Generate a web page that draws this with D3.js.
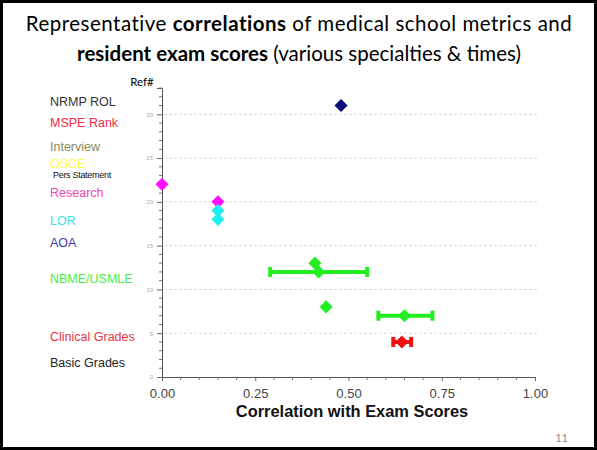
<!DOCTYPE html>
<html>
<head>
<meta charset="utf-8">
<script src="https://cdn.jsdelivr.net/npm/d3@7"></script>
<style>
html,body{margin:0;padding:0;background:#fff;}
svg{display:block;}
</style>
</head>
<body>
<svg id="chart" width="597" height="450"></svg>
<script>
// ---- data ----
const categories = ["NRMP ROL","MSPE Rank","Interview","OSCE","Pers Statement","Research","LOR","AOA","NBME/USMLE","Clinical Grades","Basic Grades"];
const categoryRef = [31.5, 29.0, 26.3, 24.4, 23.1, 21.0, 17.8, 15.4, 11.2, 4.6, 1.6];
const categoryColors = ["#333333","#ee2a44","#8a8a55","#ffff44","#111111","#ee4ab0","#44dde8","#3a3aaa","#44ee44","#ee3346","#222222"];

const refNums      = [31,   22,   20,   19,   18,   13,   12,   8,    7,     4];
const correlations = [0.48, 0.00, 0.15, 0.15, 0.15, 0.41, 0.42, 0.44, 0.65,  0.643];
const ciLow        = [null, null, null, null, null, null, 0.29, null, 0.58,  0.62];
const ciHigh       = [null, null, null, null, null, null, 0.55, null, 0.725, 0.668];
const pointColors  = ["#0b0b7a","#ff11ff","#ff11ff","#22eeee","#22eeee","#22ee22","#22ee22","#22ee22","#22ee22","#ee1111"];

const xTicks = [0, 0.25, 0.5, 0.75, 1.0];
const yTicks = [0, 5, 10, 15, 20, 25, 30];

// ---- drawing ----
const svg = d3.select("#chart");
const x = d3.scaleLinear().domain([0, 1]).range([162, 535]);
const y = d3.scaleLinear().domain([0, 33]).range([377, 88]);

// border
svg.append("rect").attr("x",1.5).attr("y",1.5).attr("width",594).attr("height",447)
  .attr("fill","none").attr("stroke","#000").attr("stroke-width",3);

// title
const title = svg.append("text").attr("text-anchor","middle")
  .attr("font-family","Lato, 'Open Sans', sans-serif").attr("font-size",20.5).attr("fill","#000")
  .attr("letter-spacing",0.5);
const l1 = title.append("tspan").attr("x",299).attr("y",31);
l1.append("tspan").text("Representative ");
l1.append("tspan").attr("font-weight","bold").text("correlations");
l1.append("tspan").text(" of medical school metrics and");
const t2 = svg.append("text").attr("text-anchor","middle")
  .attr("font-family","Lato, 'Open Sans', sans-serif").attr("font-size",20.5).attr("fill","#000")
  .attr("x",299).attr("y",61);
t2.append("tspan").attr("font-weight","bold").text("resident exam scores");
t2.append("tspan").text(" (various specialties & times)");

// gridlines
svg.append("g").selectAll("line").data(yTicks.filter(d=>d>0)).join("line")
  .attr("x1",x(0)+2).attr("x2",x(1.01)).attr("y1",d=>y(d)).attr("y2",d=>y(d))
  .attr("stroke","#d8d8d8").attr("stroke-width",1).attr("stroke-dasharray","3,2");

// y axis
const yAxis = d3.axisLeft(y).tickValues(yTicks).tickSize(5).tickFormat(d3.format("d"));
const gy = svg.append("g").attr("transform",`translate(${x(0)},0)`).call(yAxis);
gy.select(".domain").attr("stroke","#555");
gy.selectAll(".tick line").attr("stroke","#666");
gy.selectAll(".tick text").attr("font-family","Liberation Sans, Arial, sans-serif")
  .attr("font-size",6).attr("fill","#aaa").attr("x",-9);
const yMinor = d3.range(0, 34).filter(d=>d%5!==0);
svg.append("g").selectAll("line").data(yMinor).join("line")
  .attr("x1",x(0)-3).attr("x2",x(0)).attr("y1",d=>y(d)).attr("y2",d=>y(d))
  .attr("stroke","#777");

// x axis
const xAxis = d3.axisBottom(x).tickValues(xTicks).tickSize(4).tickFormat(d3.format(".2f"));
const gx = svg.append("g").attr("transform",`translate(0,${y(0)})`).call(xAxis);
gx.select(".domain").attr("stroke","#555");
gx.selectAll(".tick line").attr("stroke","#666");
gx.selectAll(".tick text").attr("font-family","Liberation Sans, Arial, sans-serif")
  .attr("font-size",13).attr("fill","#444").attr("dy","1.05em");
const xMinor = d3.range(0.05, 1, 0.05).filter(d=>Math.abs(d*4-Math.round(d*4))>1e-6);
svg.append("g").selectAll("line").data(xMinor).join("line")
  .attr("x1",d=>x(d)).attr("x2",d=>x(d)).attr("y1",y(0)).attr("y2",y(0)+3)
  .attr("stroke","#777");

// axis titles
svg.append("text").attr("x",352).attr("y",417).attr("text-anchor","middle")
  .attr("font-family","Liberation Sans, Arial, sans-serif").attr("font-weight","bold")
  .attr("font-size",16.4).attr("fill","#111").text("Correlation with Exam Scores");
svg.append("text").attr("x",142).attr("y",86).attr("text-anchor","middle")
  .attr("font-family","Lato, sans-serif").attr("font-size",11.5).attr("fill","#000").text("Ref#");

// category labels
svg.append("g").selectAll("text").data(categories).join("text")
  .attr("x",(d)=> d==="Pers Statement" ? 53 : 50).attr("y",(d,i)=>y(categoryRef[i])).attr("dy","0.35em")
  .attr("font-family","Liberation Sans, Arial, sans-serif")
  .attr("font-size",(d)=> d==="Pers Statement" ? 9 : 12.5)
  .attr("letter-spacing",(d)=> d==="Pers Statement" ? -0.3 : 0)
  .attr("fill",(d,i)=>categoryColors[i]).text(d=>d);

// error bars
const idx = d3.range(refNums.length);
const eb = idx.filter(i=>ciLow[i]!==null);
const gE = svg.append("g");
gE.selectAll("line.bar").data(eb).join("line").attr("class","bar")
  .attr("x1",i=>x(ciLow[i])).attr("x2",i=>x(ciHigh[i]))
  .attr("y1",i=>y(refNums[i])).attr("y2",i=>y(refNums[i]))
  .attr("stroke",i=>pointColors[i]).attr("stroke-width",4);
eb.forEach(i=>{
  [ciLow[i],ciHigh[i]].forEach(v=>{
    gE.append("line").attr("x1",x(v)).attr("x2",x(v))
      .attr("y1",y(refNums[i])-5).attr("y2",y(refNums[i])+5)
      .attr("stroke",pointColors[i]).attr("stroke-width",4);
  });
});

// points (diamonds)
const diamond = d3.symbol().type(d3.symbolDiamond2).size(110);
svg.append("g").selectAll("path").data(idx).join("path")
  .attr("d",diamond)
  .attr("transform",i=>`translate(${x(correlations[i])},${y(refNums[i])})`)
  .attr("fill",i=>pointColors[i]);

// page number
svg.append("text").attr("x",568).attr("y",442).attr("text-anchor","end")
  .attr("font-family","Lato, sans-serif").attr("font-size",11).attr("fill","#888").text("11");
</script>
</body>
</html>
